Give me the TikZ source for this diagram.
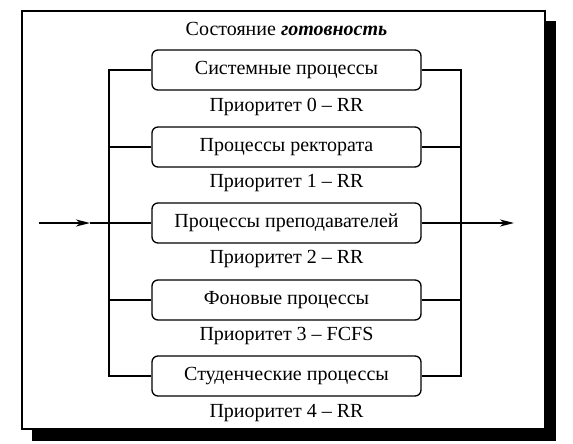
\documentclass[tikz,border=0pt]{standalone}
\usepackage{fontspec}
\setmainfont{Liberation Serif}
\usetikzlibrary{arrows.meta}

\tikzset{
    proc/.style={draw, line width=1.3pt, rounded corners=6pt, minimum width=269pt, minimum height=40pt, inner sep=0pt},
    prio/.style={inner sep=0pt},
    bus/.style={line width=1.3pt},
    flow/.style={line width=1.3pt, -{Stealth[length=14pt,width=7pt,inset=4pt]}}
}

\begin{document}
\begin{tikzpicture}[x=1pt, y=-1pt, font=\fontsize{20}{23}\selectfont]
    \useasboundingbox (0,0) rectangle (573,444);

    % frame with shadow
    \fill (32,429) rectangle (556,441);
    \fill (545,21) rectangle (556,441);
    \draw[line width=1.5pt] (22,11) rectangle (545,429);

    \node[prio] (title) at (286.5,29) {Состояние \textbf{\textit{готовность}}};

    \node[proc] (sys) at (286.5,70) {Системные процессы};
    \node[prio] (p0) at (286.5,107) {Приоритет 0 -- RR};
    \node[proc] (rect) at (286.5,147) {Процессы ректората};
    \node[prio] (p1) at (286.5,183) {Приоритет 1 -- RR};
    \node[proc] (prep) at (286.5,223) {Процессы преподавателей};
    \node[prio] (p2) at (286.5,259) {Приоритет 2 -- RR};
    \node[proc] (fon) at (286.5,300) {Фоновые процессы};
    \node[prio] (p3) at (286.5,336) {Приоритет 3 -- FCFS};
    \node[proc] (stud) at (286.5,376) {Студенческие процессы};
    \node[prio] (p4) at (286.5,413) {Приоритет 4 -- RR};

    % left and right bus
    \coordinate (lt) at (109,70);
    \coordinate (rt) at (461,70);
    \draw[bus] (sys.west) -- (lt) -- (lt |- stud.west) -- (stud.west);
    \draw[bus] (sys.east) -- (rt) -- (rt |- stud.east) -- (stud.east);
    \draw[bus] (rect.west) -- (rect.west -| lt);
    \draw[bus] (fon.west) -- (fon.west -| lt);
    \draw[bus] (rect.east) -- (rect.east -| rt);
    \draw[bus] (fon.east) -- (fon.east -| rt);

    % input and output
    \coordinate (in) at (39,223);
    \coordinate (inmid) at (90,223);
    \coordinate (out) at (514,223);
    \draw[flow] (in) -- (inmid);
    \draw[bus] (inmid) -- (prep.west);
    \draw[flow] (prep.east) -- (out);
\end{tikzpicture}
\end{document}
